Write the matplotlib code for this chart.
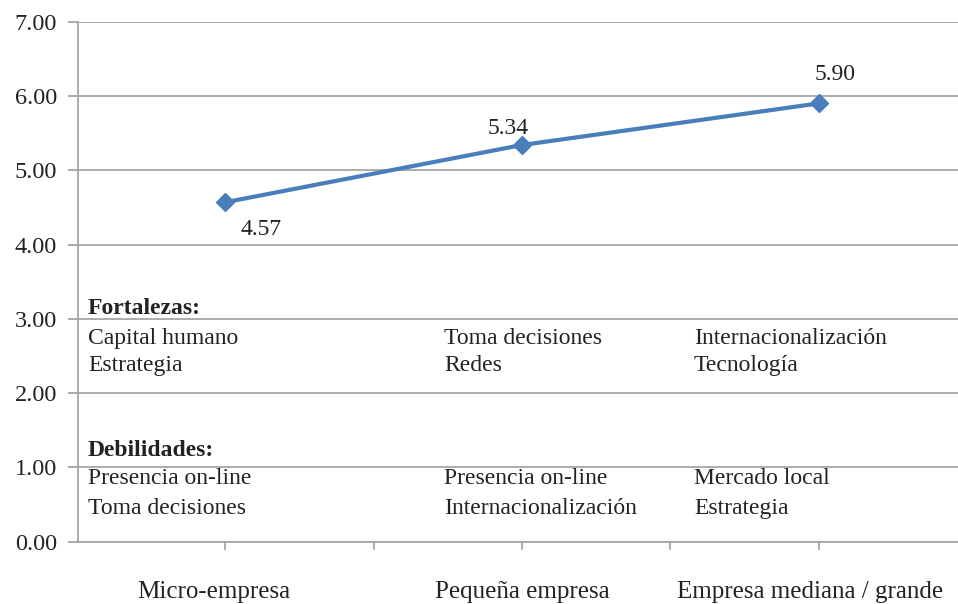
import matplotlib
matplotlib.use("Agg")
import matplotlib.pyplot as plt

categories = ["Micro-empresa", "Pequeña empresa", "Empresa mediana / grande"]
values = [4.57, 5.34, 5.90]
value_labels = ["4.57", "5.34", "5.90"]
yticks = [0, 1, 2, 3, 4, 5, 6, 7]
ytick_labels = ["0.00", "1.00", "2.00", "3.00", "4.00", "5.00", "6.00", "7.00"]
fortalezas = [["Capital humano", "Estrategia"],
              ["Toma decisiones", "Redes"],
              ["Internacionalización", "Tecnología"]]
debilidades = [["Presencia on-line", "Toma decisiones"],
               ["Presencia on-line", "Internacionalización"],
               ["Mercado local", "Estrategia"]]

plt.rcParams['font.family'] = ['Liberation Serif', 'DejaVu Serif']

W, H = 958, 604
fig = plt.figure(figsize=(W/100, H/100), dpi=100)
ax = fig.add_axes([78/W, 1 - 541.7/H, (W - 78)/W, (541.7 - 21.7)/H])

grid_c = "#a6a6a6"
line_c = "#4a7ebb"
txt_c = "#222222"
x = list(range(len(categories)))
ax.plot(x, values, color=line_c, lw=3, marker="D", markersize=9.5, zorder=3)

ax.set_xlim(-0.497, 2.47)
ax.set_ylim(0, 7)
ax.set_yticks(yticks)
ax.set_yticklabels(ytick_labels, fontsize=17.5, color=txt_c)
ax.yaxis.grid(True, color=grid_c, lw=1.3)
ax.set_axisbelow(True)

ax.set_xticks([0, 0.5, 1, 1.5, 2])
ax.set_xticklabels([])
ax.tick_params(axis="x", length=5.5, color=grid_c, width=1.3, direction="out")
ax.tick_params(axis="y", length=7, color=grid_c, width=1.3, pad=8)
for s in ["top", "right"]:
    ax.spines[s].set_visible(False)
for s in ["left", "bottom"]:
    ax.spines[s].set_color(grid_c)
    ax.spines[s].set_linewidth(1.3)

# value labels (offsets in points)
offsets = [(26, -23.6), (-10, 8), (12, 17)]
for xi, v, lab, off in zip(x, values, value_labels, offsets):
    ax.annotate(lab, (xi, v), xytext=off, textcoords="offset points",
                fontsize=17, ha="center", va="baseline", color=txt_c)

# category labels
cat_dx = [-0.04, 0.0, -0.03]
for xi, c, d in zip(x, categories, cat_dx):
    ax.text(xi + d, -0.758, c, fontsize=18, ha="center", va="baseline",
            color=txt_c, clip_on=False)

# strengths / weaknesses text
col_x = [-0.463, 0.737, 1.58]
ax.text(col_x[0], 3.065, "Fortalezas:", fontsize=17, fontweight="bold",
        ha="left", va="baseline", color=txt_c)
ax.text(col_x[0], 1.16, "Debilidades:", fontsize=17, fontweight="bold",
        ha="left", va="baseline", color=txt_c)
for cx, f, d in zip(col_x, fortalezas, debilidades):
    ax.text(cx, 2.66, f[0], fontsize=17, ha="left", va="baseline", color=txt_c)
    ax.text(cx, 2.30, f[1], fontsize=17, ha="left", va="baseline", color=txt_c)
    ax.text(cx, 0.777, d[0], fontsize=17, ha="left", va="baseline", color=txt_c)
    ax.text(cx, 0.37, d[1], fontsize=17, ha="left", va="baseline", color=txt_c)

fig.savefig("out.png", dpi=100)
